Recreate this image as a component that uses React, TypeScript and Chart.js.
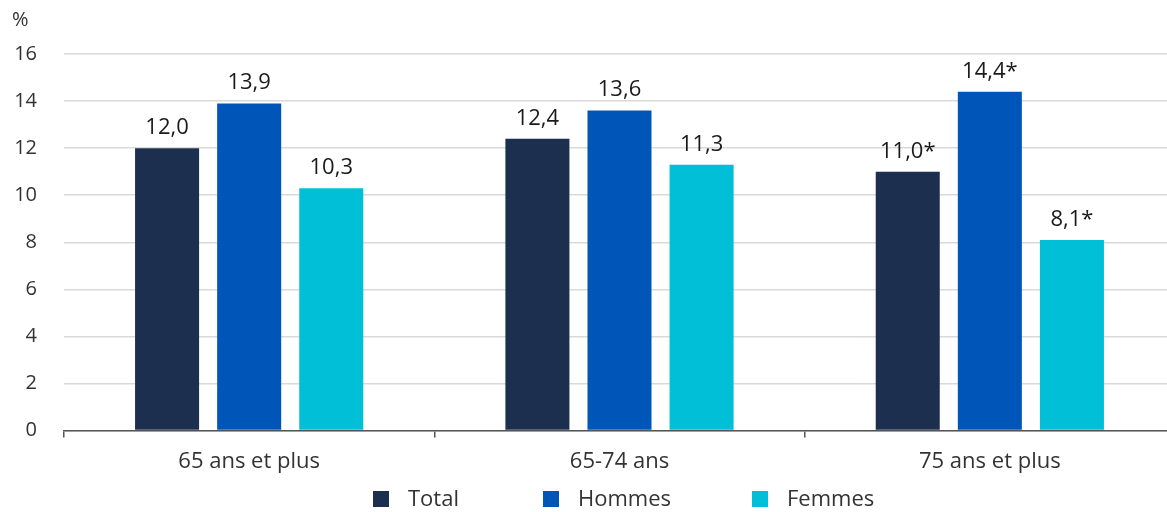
import React, { useEffect, useRef } from "react";
import { Chart, registerables } from "chart.js";

Chart.register(...registerables);

const categories = ["65 ans et plus", "65-74 ans", "75 ans et plus"];
const seriesNames = ["Total", "Hommes", "Femmes"];
const totalValues = [12.0, 12.4, 11.0];
const hommesValues = [13.9, 13.6, 14.4];
const femmesValues = [10.3, 11.3, 8.1];
const totalLabels = ["12,0", "12,4", "11,0*"];
const hommesLabels = ["13,9", "13,6", "14,4*"];
const femmesLabels = ["10,3", "11,3", "8,1*"];
const yTicks = [0, 2, 4, 6, 8, 10, 12, 14, 16];
const colors = ["#1d2f4f", "#0056b8", "#00bfd6"];

const FONT = "'Open Sans', sans-serif";

export default function App() {
  const ref = useRef<HTMLCanvasElement | null>(null);

  useEffect(() => {
    if (!ref.current) return;
    const valueLabels = [totalLabels, hommesLabels, femmesLabels];

    const overlay = {
      id: "overlay",
      afterDatasetsDraw(chart: any) {
        const ctx = chart.ctx;
        ctx.save();
        ctx.fillStyle = "#1a1a1a";
        ctx.font = `22px ${FONT}`;
        ctx.textAlign = "center";
        ctx.textBaseline = "alphabetic";
        chart.data.datasets.forEach((ds: any, di: number) => {
          const meta = chart.getDatasetMeta(di);
          meta.data.forEach((bar: any, i: number) => {
            ctx.fillText(valueLabels[di][i], bar.x, bar.y - 14);
          });
        });
        ctx.restore();
      },
      afterDraw(chart: any) {
        const ctx = chart.ctx;
        ctx.save();
        ctx.fillStyle = "#333333";
        ctx.font = `20px ${FONT}`;
        ctx.textAlign = "left";
        ctx.textBaseline = "middle";
        ctx.fillText("%", 12, 20);
        const boxX = [373, 543, 752];
        ctx.font = `22px ${FONT}`;
        chart.data.datasets.forEach((ds: any, di: number) => {
          ctx.fillStyle = ds.backgroundColor;
          ctx.fillRect(boxX[di], 491, 16, 16);
          ctx.fillStyle = "#333333";
          ctx.textBaseline = "middle";
          ctx.fillText(ds.label, boxX[di] + 35, 500);
        });
        ctx.restore();
      },
    };

    const chart = new Chart(ref.current, {
      type: "bar",
      data: {
        labels: categories,
        datasets: [
          { label: seriesNames[0], data: totalValues, backgroundColor: colors[0] },
          { label: seriesNames[1], data: hommesValues, backgroundColor: colors[1] },
          { label: seriesNames[2], data: femmesValues, backgroundColor: colors[2] },
        ],
      },
      options: {
        animation: false,
        responsive: false,
        maintainAspectRatio: false,
        layout: { padding: { top: 54, bottom: 26, left: 0, right: 0 } },
        datasets: {
          bar: { categoryPercentage: 0.665, barPercentage: 0.78 },
        },
        plugins: {
          legend: { display: false },
          tooltip: { enabled: false },
          title: { display: false },
        },
        scales: {
          x: {
            offset: true,
            grid: {
              offset: true,
              drawOnChartArea: false,
              drawTicks: true,
              tickLength: 7,
              color: "#555555",
              lineWidth: 1.5,
            },
            border: { display: true, color: "#555555", width: 1.5 },
            ticks: {
              color: "#333333",
              font: { family: FONT, size: 22 },
              padding: 11,
            },
          },
          y: {
            min: 0,
            max: 16,
            afterBuildTicks(scale: any) {
              scale.ticks = yTicks.map((v) => ({ value: v }));
            },
            afterFit(scale: any) {
              scale.width = 64;
            },
            grid: {
              color: "#d9d9d9",
              lineWidth: 1.5,
              drawTicks: false,
              tickLength: 0,
            },
            border: { display: false },
            ticks: {
              color: "#333333",
              font: { family: FONT, size: 20 },
              padding: 27,
            },
          },
        },
      },
      plugins: [overlay],
    });

    return () => chart.destroy();
  }, []);

  return (
    <div
      style={{
        position: "fixed",
        left: 0,
        top: 0,
        width: 1167,
        height: 512,
        overflow: "hidden",
        background: "#ffffff",
      }}
    >
      <canvas ref={ref} width={1175} height={512} style={{ width: 1175, height: 512 }} />
    </div>
  );
}
